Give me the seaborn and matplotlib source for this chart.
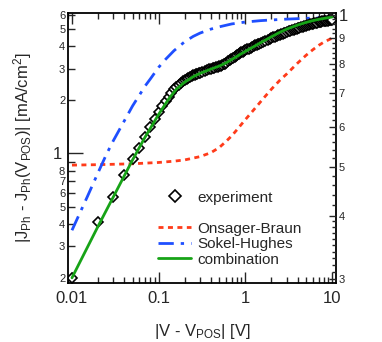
import numpy as np
import pandas as pd
import matplotlib
matplotlib.use("Agg")
import matplotlib.pyplot as plt
import matplotlib.ticker as mticker
from matplotlib.lines import Line2D
import seaborn as sns


# =========================
# DATA
# =========================

exp_x = [0.01, 0.02, 0.03, 0.04, 0.05, 0.06, 0.07, 0.08, 0.09, 0.10,
         0.11, 0.12, 0.13, 0.14, 0.15, 0.16, 0.17, 0.18, 0.19, 0.20,
         0.21, 0.22, 0.23, 0.24, 0.25, 0.26, 0.27, 0.28, 0.29, 0.30,
         0.32, 0.34, 0.36, 0.38, 0.40, 0.42, 0.44, 0.46, 0.48, 0.50,
         0.52, 0.54, 0.56, 0.58, 0.60, 0.63, 0.66, 0.69, 0.72, 0.75,
         0.78, 0.81, 0.84, 0.87, 0.90, 0.93, 0.96, 1.0,
         1.05, 1.1, 1.15, 1.2, 1.25, 1.3, 1.35, 1.4, 1.45, 1.5,
         1.6, 1.7, 1.8, 1.9, 2.0, 2.1, 2.2, 2.3, 2.4, 2.5,
         2.6, 2.7, 2.8, 2.9, 3.0, 3.15, 3.3, 3.45, 3.6, 3.75,
         3.9, 4.05, 4.2, 4.4, 4.6, 4.8, 5.0, 5.2, 5.4, 5.6,
         5.8, 6.0, 6.25, 6.5, 6.75, 7.0, 7.25, 7.5, 7.75, 8.0,
         8.3, 8.6, 8.9, 9.2, 9.5, 9.75, 10.0]

exp_y = [0.20, 0.41, 0.57, 0.76, 0.93, 1.08, 1.24, 1.40, 1.56, 1.72,
         1.86, 1.98, 2.09, 2.20, 2.29, 2.37, 2.44, 2.50, 2.55, 2.59,
         2.63, 2.66, 2.69, 2.72, 2.75, 2.77, 2.79, 2.81, 2.83, 2.85,
         2.88, 2.91, 2.94, 2.97, 3.00, 3.02, 3.04, 3.06, 3.08, 3.10,
         3.12, 3.14, 3.17, 3.20, 3.24, 3.29, 3.34, 3.40, 3.45, 3.50,
         3.55, 3.59, 3.63, 3.67, 3.71, 3.74, 3.77, 3.80,
         3.85, 3.89, 3.93, 3.97, 4.01, 4.05, 4.09, 4.12, 4.15, 4.18,
         4.24, 4.30, 4.35, 4.40, 4.44, 4.49, 4.53, 4.57, 4.61, 4.65,
         4.68, 4.72, 4.75, 4.78, 4.81, 4.85, 4.89, 4.93, 4.97, 5.00,
         5.03, 5.06, 5.09, 5.13, 5.17, 5.20, 5.23, 5.26, 5.28, 5.31,
         5.33, 5.36, 5.39, 5.41, 5.44, 5.46, 5.48, 5.50, 5.52, 5.53,
         5.55, 5.57, 5.59, 5.60, 5.61, 5.62, 5.63]

comb_x = [0.01, 0.02, 0.03, 0.05, 0.07, 0.1, 0.13, 0.16, 0.2, 0.25,
          0.3, 0.4, 0.5, 0.6, 0.7, 0.85, 1.0, 1.3, 1.6, 2.0,
          2.5, 3.0, 4.0, 5.0, 6.0, 7.0, 8.0, 10.0]
comb_y = [0.20, 0.39, 0.57, 0.92, 1.24, 1.66, 2.02, 2.30, 2.52, 2.70,
          2.82, 2.98, 3.10, 3.23, 3.38, 3.58, 3.75, 4.03, 4.27, 4.53,
          4.80, 5.00, 5.27, 5.45, 5.58, 5.67, 5.74, 5.85]

sh_x = [0.01, 0.015, 0.02, 0.025, 0.03, 0.04, 0.05, 0.06, 0.07, 0.08,
        0.1, 0.12, 0.15, 0.2, 0.25, 0.3, 0.4, 0.5, 0.7, 1.0,
        1.5, 2.0, 3.0, 5.0, 7.0, 10.0]
sh_y = [0.37, 0.57, 0.78, 0.99, 1.18, 1.52, 1.85, 2.13, 2.40, 2.62,
        3.05, 3.38, 3.78, 4.25, 4.55, 4.75, 5.00, 5.15, 5.35, 5.48,
        5.58, 5.63, 5.69, 5.75, 5.78, 5.80]

ob_x = [0.01, 0.02, 0.05, 0.1, 0.15, 0.2, 0.3, 0.4, 0.5, 0.6,
        0.7, 0.8, 1.0, 1.3, 1.7, 2.0, 2.5, 3.0, 4.0, 5.0,
        6.0, 7.0, 8.0, 10.0]
ob_y = [0.86, 0.865, 0.875, 0.89, 0.905, 0.92, 0.96, 1.01, 1.08, 1.17,
        1.26, 1.36, 1.55, 1.80, 2.10, 2.30, 2.58, 2.80, 3.22, 3.56,
        3.83, 4.05, 4.22, 4.45]

left_ticks = [0.2, 0.3, 0.4, 0.5, 0.6, 0.7, 0.8, 0.9, 1, 2, 3, 4, 5, 6]
left_labels = ["2", "3", "4", "5", "6", "7", "8", "", "1", "2", "3", "4", "5", "6"]

right_major = [0.3, 0.4, 0.5, 0.6, 0.7, 0.8, 0.9, 1.0]
right_labels = ["3", "4", "5", "6", "7", "8", "9", "1"]


# =========================
# STYLE
# =========================

sns.set_style("ticks")
plt.rcParams["font.family"] = ["Liberation Sans", "DejaVu Sans"]
plt.rcParams["mathtext.default"] = "regular"

fig = plt.figure(figsize=(3.82, 3.42), dpi=100)
ax = fig.add_axes([68 / 382, 1 - 283 / 342, 268 / 382, 270 / 342])


# =========================
# CURVES
# =========================

red = "#ff3b1a"
blue = "#1f4fff"
green = "#17a317"

sns.lineplot(x=ob_x, y=ob_y, ax=ax, color=red, lw=2,
             linestyle=(0, (1.8, 1.6)), sort=False)

sns.lineplot(x=sh_x, y=sh_y, ax=ax, color=blue, lw=2,
             linestyle=(0, (5.5, 2.5, 1.2, 2.5)), sort=False)

sns.lineplot(x=exp_x, y=exp_y, ax=ax, linestyle="none", marker="D",
             markersize=4.6, markerfacecolor="white",
             markeredgecolor="black", markeredgewidth=1.2, sort=False)

sns.lineplot(x=comb_x, y=comb_y, ax=ax, color=green, lw=2, sort=False)


# =========================
# AXES
# =========================

ax.set_xscale("log")
ax.set_yscale("log")
ax.set_xlim(0.0090, 11.1)
ax.set_ylim(0.187, 6.16)

ax.xaxis.set_major_locator(mticker.FixedLocator([0.01, 0.1, 1, 10]))
ax.xaxis.set_major_formatter(mticker.FixedFormatter(["0.01", "0.1", "1", "10"]))
ax.xaxis.set_minor_locator(mticker.LogLocator(base=10, subs=np.arange(2, 10)))
ax.xaxis.set_minor_formatter(mticker.NullFormatter())

ax.yaxis.set_major_locator(mticker.FixedLocator([1]))
ax.yaxis.set_major_formatter(mticker.FixedFormatter(["1"]))
minor_y = [t for t in left_ticks if t != 1]
minor_lab = [l for t, l in zip(left_ticks, left_labels) if t != 1]
ax.yaxis.set_minor_locator(mticker.FixedLocator(minor_y))
ax.yaxis.set_minor_formatter(mticker.FixedFormatter(minor_lab))

ax.tick_params(axis="x", which="major", direction="in", length=8, width=1,
               top=True, labelsize=12, pad=6)
ax.tick_params(axis="x", which="minor", direction="in", length=4, width=1,
               top=True)
ax.tick_params(axis="y", which="major", direction="in", length=11, width=1,
               labelsize=12, pad=4, right=False)
ax.tick_params(axis="y", which="minor", direction="in", length=5, width=1,
               labelsize=8, pad=2, right=False)

for s in ax.spines.values():
    s.set_linewidth(1.3)
    s.set_color("black")

ax.set_xlabel("|V - V$_{POS}$| [V]", fontsize=12, labelpad=11)
ax.set_ylabel("|J$_{Ph}$ - J$_{Ph}$(V$_{POS}$)| [mA/cm$^{2}$]", fontsize=12,
              labelpad=14)

# right-hand scale
ax2 = ax.twinx()
ax2.set_yscale("log")
ax2.set_ylim(0.2945, 1.009)
right_minor = ([0.31 + 0.01 * i for i in range(9)]
               + [0.42 + 0.02 * i for i in range(4)]
               + [0.52 + 0.02 * i for i in range(4)]
               + [0.62 + 0.02 * i for i in range(4)]
               + [0.72 + 0.02 * i for i in range(4)]
               + [0.82 + 0.02 * i for i in range(4)]
               + [0.92 + 0.02 * i for i in range(4)])
ax2.yaxis.set_major_locator(mticker.FixedLocator(right_major))
ax2.yaxis.set_major_formatter(mticker.FixedFormatter(right_labels))
ax2.yaxis.set_minor_locator(mticker.FixedLocator(right_minor))
ax2.yaxis.set_minor_formatter(mticker.NullFormatter())
ax2.tick_params(axis="y", which="major", direction="in", length=5, width=1,
                labelsize=8, pad=2)
ax2.tick_params(axis="y", which="minor", direction="in", length=3, width=1)
for lab in ax2.get_yticklabels():
    if lab.get_text() == "1":
        lab.set_fontsize(12)
for s in ax2.spines.values():
    s.set_visible(False)


# =========================
# LEGEND
# =========================

handles = [
    Line2D([], [], linestyle="none", marker="D", markersize=6,
           markerfacecolor="white", markeredgecolor="black",
           markeredgewidth=1.2),
    Line2D([], [], linestyle="none"),
    Line2D([], [], color=red, lw=2, linestyle=(0, (1.8, 1.6))),
    Line2D([], [], color=blue, lw=2, linestyle=(0, (5.5, 2.5, 1.2, 2.5))),
    Line2D([], [], color=green, lw=2),
]
labels = ["experiment", " ", "Onsager-Braun", "Sokel-Hughes", "combination"]

ax.legend(handles, labels, loc="lower left", bbox_to_anchor=(0.335, 0.06),
          frameon=False, fontsize=11, handlelength=2.2, handletextpad=0.4,
          labelspacing=0.1, borderpad=0, borderaxespad=0)

fig.savefig("out.png", dpi=100)
